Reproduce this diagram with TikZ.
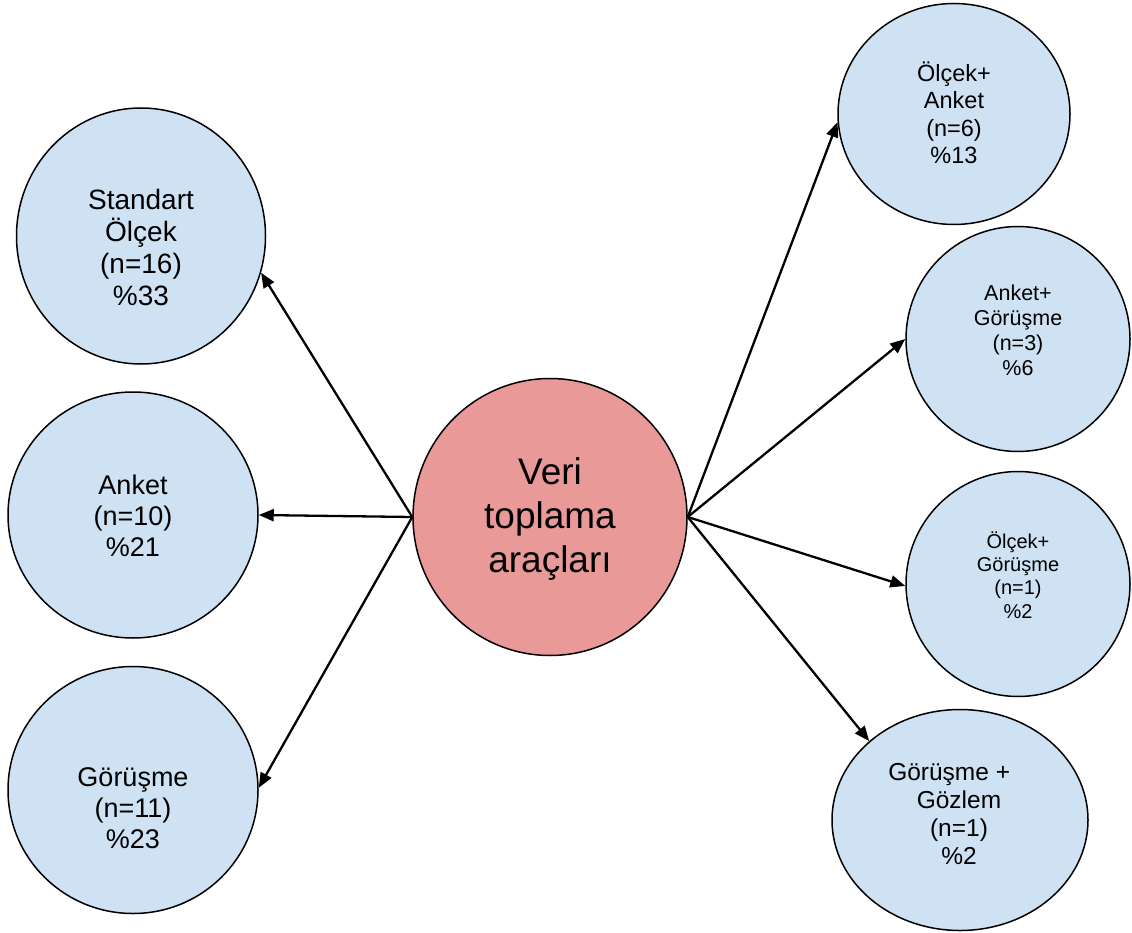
\documentclass[tikz,border=0pt]{standalone}
\usepackage{fontspec}
\setmainfont{Liberation Sans}
\usetikzlibrary{shapes.geometric,arrows.meta}
\definecolor{cblue}{HTML}{CFE2F3}
\definecolor{cred}{HTML}{EA9999}
\tikzset{
  bub/.style={ellipse, draw=black, line width=1.5pt, fill=cblue, inner sep=0pt},
  hub/.style={ellipse, draw=black, line width=1.5pt, fill=cred, inner sep=0pt},
  txt/.style={align=center, inner sep=0pt, text=black},
  conn/.style={line width=2.3pt, -{Triangle[length=15pt,width=12pt]}},
}
\begin{document}
\begin{tikzpicture}[x=1pt,y=-1pt]
\useasboundingbox (0,0) rectangle (1132,933);
% left bubbles
\node[bub, minimum width=249pt, minimum height=256pt] (std) at (141,236) {};
\node[txt, font=\fontsize{28}{32}\selectfont] (stdt) at (141,247) {Standart\\Ölçek\\(n=16)\\\%33};
\node[bub, minimum width=250pt, minimum height=246pt] (ank) at (133,515) {};
\node[txt, font=\fontsize{27}{31}\selectfont] (ankt) at (133,516) {Anket\\(n=10)\\\%21};
\node[bub, minimum width=250pt, minimum height=247pt] (gor) at (133,790) {};
\node[txt, font=\fontsize{27}{31}\selectfont] (gort) at (133,808) {Görüşme\\(n=11)\\\%23};
% hub
\node[hub, minimum width=274pt, minimum height=277pt] (c) at (550,517) {};
\node[txt, font=\fontsize{37}{44}\selectfont] (ct) at (550,519) {Veri\\toplama\\araçları};
% right bubbles
\node[bub, minimum width=232pt, minimum height=221pt] (oa) at (954,114) {};
\node[txt, font=\fontsize{23.5}{27.5}\selectfont] (oat) at (954,113) {Ölçek+\\Anket\\(n=6)\\\%13};
\node[bub, minimum width=224pt, minimum height=225pt] (ag) at (1018,339) {};
\node[txt, font=\fontsize{21.5}{25}\selectfont] (agt) at (1018,330) {Anket+\\Görüşme\\(n=3)\\\%6};
\node[bub, minimum width=224pt, minimum height=225pt] (og) at (1018,584) {};
\node[txt, font=\fontsize{20}{23.3}\selectfont] (ogt) at (1018,575) {Ölçek+\\Görüşme\\(n=1)\\\%2};
\node[bub, minimum width=256pt, minimum height=221pt] (gg) at (960,820) {};
\node[txt, font=\fontsize{24.5}{28}\selectfont] (ggt) at (959,814) {Görüşme +\hspace*{0.8em}\\Gözlem\\(n=1)\\\%2};
% connectors
\draw[conn] (c.west) -- (std.-17);
\draw[conn] (c.west) -- (ank.east);
\draw[conn] (c.west) -- (gor.1);
\draw[conn] (c.east) -- (oa.184);
\draw[conn] (c.east) -- (ag.west);
\draw[conn] (c.east) -- (og.181);
\draw[conn] (c.east) -- (gg.139);
\end{tikzpicture}
\end{document}
